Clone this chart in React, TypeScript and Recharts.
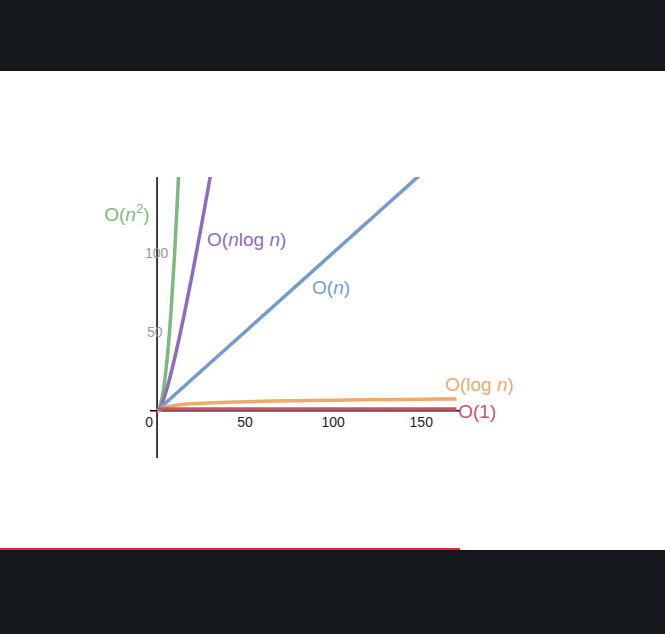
import { LineChart, Line, XAxis, YAxis, ReferenceLine, ReferenceDot } from 'recharts';

// input sizes n
const nValues = [0, 1, 2, 3, 4, 5, 6, 8, 10, 12, 13, 15, 20, 25, 30, 32, 40, 50, 60, 80, 100, 120, 140, 160, 170];
const constant = [1, 1, 1, 1, 1, 1, 1, 1, 1, 1, 1, 1, 1, 1, 1, 1, 1, 1, 1, 1, 1, 1, 1, 1, 1];
const logN = [0, 0, 1, 1.58, 2, 2.32, 2.58, 3, 3.32, 3.58, 3.7, 3.91, 4.32, 4.64, 4.91, 5, 5.32, 5.64, 5.91, 6.32, 6.64, 6.91, 7.13, 7.32, 7.41];
const linear = [0, 1, 2, 3, 4, 5, 6, 8, 10, 12, 13, 15, 20, 25, 30, 32, 40, 50, 60, 80, 100, 120, 140, 160, 170];
const nLogN = [0, 0, 2, 4.75, 8, 11.6, 15.5, 24, 33.2, 43, 48.1, 58.6, 86.4, 116, 147, 160, 213, 282, 354, 506, 664, 829, 998, 1171, 1260];
const quadratic = [0, 1, 4, 9, 16, 25, 36, 64, 100, 144, 169, 225, 400, 625, 900, 1024, 1600, 2500, 3600, 6400, 10000, 14400, 19600, 25600, 28900];

const xTicks = [50, 100, 150];
const yTicks = [50, 100];

const data = nValues.map((n, i) => ({
  n,
  c: constant[i],
  log: logN[i],
  lin: linear[i],
  nlog: nLogN[i],
  sq: quadratic[i],
}));

const GREEN = '#7db87c';
const PURPLE = '#8c6cc2';
const BLUE = '#729ccc';
const ORANGE = '#efa96b';
const RED = '#c4566b';

// label like O(n log n) with italic n / superscript
const BigO = ({ viewBox, parts, fill }: any) => {
  const { x, y } = viewBox || {};
  return (
    <text x={x} y={y} fill={fill} fontSize={19} fontFamily="Liberation Sans, Arial, sans-serif">
      {parts.map((p: any, i: number) => (
        <tspan key={i} fontStyle={p.i ? 'italic' : 'normal'} fontSize={p.sup ? 13 : 19} dy={p.sup ? -8 : p.down ? 8 : 0}>
          {p.t}
        </tspan>
      ))}
    </text>
  );
};

const TickLabel = ({ viewBox, value, dx, dy, fill, anchor }: any) => {
  const { x, y } = viewBox || {};
  return (
    <text x={x + dx} y={y + dy} fill={fill} fontSize={14} textAnchor={anchor} fontFamily="Liberation Sans, Arial, sans-serif">
      {value}
    </text>
  );
};

const labels = [
  { x: -30, y: 120, fill: GREEN, parts: [{ t: 'O(' }, { t: 'n', i: true }, { t: '2', sup: true }, { t: ')', down: true }] },
  { x: 28.4, y: 104, fill: PURPLE, parts: [{ t: 'O(' }, { t: 'n', i: true }, { t: 'log ' }, { t: 'n', i: true }, { t: ')' }] },
  { x: 88, y: 74, fill: BLUE, parts: [{ t: 'O(' }, { t: 'n', i: true }, { t: ')' }] },
  { x: 163.6, y: 12.7, fill: ORANGE, parts: [{ t: 'O(log ' }, { t: 'n', i: true }, { t: ')' }] },
  { x: 171, y: -4.4, fill: RED, parts: [{ t: 'O(1)' }] },
];

export default function App() {
  return (
    <div style={{ position: 'fixed', left: 0, top: 0, width: 665, height: 634, background: '#15181d' }}>
      <div style={{ position: 'absolute', left: 0, top: 71, width: 665, height: 479, background: '#fff' }} />
      <div style={{ position: 'absolute', left: 0, top: 548, width: 460, height: 2, background: '#e8232a' }} />
      <div style={{ position: 'absolute', left: 0, top: 0 }}>
        <LineChart width={665} height={634} data={data} margin={{ top: 177, right: 205, bottom: 176, left: 150 }}>
          <XAxis type="number" dataKey="n" domain={[-4, 172]} hide allowDataOverflow />
          <YAxis type="number" domain={[-30, 148]} hide allowDataOverflow />
          <ReferenceLine x={0} stroke="#000" strokeWidth={1.5} />
          <ReferenceLine y={0} stroke="#000" strokeWidth={1.5} />
          <Line dataKey="sq" stroke={GREEN} strokeWidth={3.5} dot={false} type="monotone" isAnimationActive={false} />
          <Line dataKey="nlog" stroke={PURPLE} strokeWidth={3.5} dot={false} type="monotone" isAnimationActive={false} />
          <Line dataKey="lin" stroke={BLUE} strokeWidth={3.5} dot={false} type="monotone" isAnimationActive={false} />
          <Line dataKey="log" stroke={ORANGE} strokeWidth={3.5} dot={false} type="monotone" isAnimationActive={false} />
          <Line dataKey="c" stroke={RED} strokeWidth={3.5} dot={false} type="monotone" isAnimationActive={false} />
          {xTicks.map((t) => (
            <ReferenceDot key={'x' + t} x={t} y={0} r={0} ifOverflow="visible"
              label={<TickLabel value={t} dx={0} dy={16} fill="#222" anchor="middle" />} />
          ))}
          <ReferenceDot x={0} y={0} r={0} ifOverflow="visible"
            label={<TickLabel value={0} dx={-8} dy={16} fill="#222" anchor="middle" />} />
          {yTicks.map((t) => (
            <ReferenceDot key={'y' + t} x={0} y={t} r={0} ifOverflow="visible"
              label={<TickLabel value={t} dx={t === 100 ? -12 : -10} dy={5} fill="#999" anchor="start" />} />
          ))}
          {labels.map((l, i) => (
            <ReferenceDot key={'l' + i} x={l.x} y={l.y} r={0} ifOverflow="visible"
              label={<BigO parts={l.parts} fill={l.fill} />} />
          ))}
        </LineChart>
      </div>
    </div>
  );
}
